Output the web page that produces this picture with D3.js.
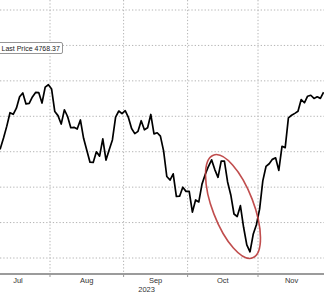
<!DOCTYPE html>
<html><head><meta charset="utf-8">
<script src="https://cdn.jsdelivr.net/npm/d3@7"></script>
<style>html,body{margin:0;padding:0;background:#fff;overflow:hidden}</style>
</head><body>
<svg id="c" width="324" height="292"></svg>
<script>
// Trading days (2023) and S&P 500 closes
const dates = ["07-03","07-05","07-06","07-07","07-10","07-11","07-12","07-13","07-14","07-17","07-18","07-19","07-20","07-21","07-24","07-25","07-26","07-27","07-28","07-31",
"08-01","08-02","08-03","08-04","08-07","08-08","08-09","08-10","08-11","08-14","08-15","08-16","08-17","08-18","08-21","08-22","08-23","08-24","08-25","08-28","08-29","08-30","08-31",
"09-01","09-05","09-06","09-07","09-08","09-11","09-12","09-13","09-14","09-15","09-18","09-19","09-20","09-21","09-22","09-25","09-26","09-27","09-28","09-29",
"10-02","10-03","10-04","10-05","10-06","10-09","10-10","10-11","10-12","10-13","10-16","10-17","10-18","10-19","10-20","10-23","10-24","10-25","10-26","10-27","10-30","10-31",
"11-01","11-02","11-03","11-06","11-07","11-08","11-09","11-10","11-13","11-14","11-15","11-16","11-17","11-20","11-21","11-22","11-24","11-27","11-28","11-29","11-30"];
const prices = [4455.59,4446.82,4411.59,4398.95,4409.53,4439.26,4472.16,4510.04,4505.42,4522.79,4554.98,4565.72,4534.87,4536.34,4554.64,4567.46,4566.75,4537.41,4582.23,4588.96,
4576.73,4513.39,4501.89,4478.03,4518.44,4499.38,4467.71,4468.83,4464.05,4489.72,4437.86,4404.33,4370.36,4369.71,4399.77,4387.55,4436.01,4376.31,4405.71,4433.31,4497.63,4514.87,4507.66,
4515.77,4496.83,4465.48,4451.14,4457.49,4487.46,4461.90,4467.44,4505.10,4450.32,4453.53,4443.95,4402.20,4330.00,4320.06,4337.44,4273.53,4274.51,4299.70,4288.05,
4288.39,4229.45,4263.75,4258.19,4308.50,4335.66,4358.24,4376.95,4349.61,4327.78,4373.63,4373.20,4314.60,4278.00,4224.16,4217.04,4247.68,4186.77,4137.23,4117.37,4166.82,4193.80,
4237.86,4317.78,4358.34,4365.98,4378.38,4382.78,4347.35,4415.24,4411.55,4495.70,4502.88,4508.24,4514.02,4547.38,4538.19,4556.62,4559.34,4550.43,4554.89,4550.58,4567.80];
const monthKeys = ["07","08","09","10","11"];
const monthLabels = ["Jul","Aug","Sep","Oct","Nov"];
const yearLabel = "2023";
const yTicks = [4100,4200,4300,4400,4500,4600,4700,4800];
const lastPriceText = "Last Price 4768.37";

const W = 324, H = 292, axisY = 274;
const svg = d3.select("#c");
const font = "'Liberation Sans', Arial, sans-serif";

// index based trading-day scale
const x = d3.scaleLinear().domain([0, 1]).range([-12.4, -9.2]);
const y = d3.scaleLinear().domain([4100, 4800]).range([258, 10]);

svg.append("defs").append("clipPath").attr("id","clip")
  .append("rect").attr("x",0).attr("y",0).attr("width",W).attr("height",axisY);

const grid = svg.append("g");
// horizontal grid
grid.selectAll("line.h").data(yTicks).join("line")
  .attr("x1",0).attr("x2",W).attr("y1",d=>y(d)).attr("y2",d=>y(d))
  .attr("stroke","#b4b4b4").attr("stroke-width",1).attr("stroke-dasharray","1.3,2");

// month boundaries
const monthFirst = monthKeys.map(m => dates.findIndex(d => d.startsWith(m)));
const monthLast = monthKeys.map(m => { let i=-1; dates.forEach((d,k)=>{ if(d.startsWith(m)) i=k; }); return i; });
const nov = monthKeys.length-1;
// November has 21 trading days in total
const monthEnd = monthLast.map((l,i)=> i===nov ? monthFirst[i]+21-1 : l);
const bounds = monthFirst.slice(1).map(i => x(i-0.5));
grid.selectAll("line.v").data(bounds).join("line")
  .attr("x1",d=>d).attr("x2",d=>d).attr("y1",0).attr("y2",axisY)
  .attr("stroke","#b4b4b4").attr("stroke-width",1).attr("stroke-dasharray","1.3,2");

// axis line and ticks
svg.append("line").attr("x1",0).attr("x2",W).attr("y1",axisY).attr("y2",axisY)
  .attr("stroke","#7a7a7a").attr("stroke-width",1.5);
svg.selectAll("line.tk").data(bounds).join("line")
  .attr("x1",d=>d).attr("x2",d=>d).attr("y1",axisY).attr("y2",axisY+3)
  .attr("stroke","#999").attr("stroke-width",1);

// month labels
svg.selectAll("text.m").data(monthLabels).join("text")
  .attr("x",(d,i)=> (x(monthFirst[i]-0.5)+x(monthEnd[i]+0.5))/2)
  .attr("y",283).attr("text-anchor","middle")
  .attr("font-family",font).attr("font-size",7.5).attr("fill","#333").text(d=>d);
svg.append("text").attr("x",x(monthFirst[2]-0.5)+23).attr("y",291.5).attr("text-anchor","middle")
  .attr("font-family",font).attr("font-size",7.5).attr("fill","#333").text(yearLabel);

// price line
const line = d3.line().x((d,i)=>x(i)).y(d=>y(d));
svg.append("path").datum(prices).attr("clip-path","url(#clip)")
  .attr("d",line).attr("fill","none").attr("stroke","#000")
  .attr("stroke-width",1.7).attr("stroke-linejoin","round");

// red ellipse highlight
svg.append("ellipse").attr("cx",0).attr("cy",0).attr("rx",20.5).attr("ry",55)
  .attr("transform","translate(233,206.5) rotate(-21)")
  .attr("fill","none").attr("stroke","#b93a3a").attr("stroke-width",1.6).attr("stroke-opacity",0.9);

// last price box
const g = svg.append("g");
g.append("rect").attr("x",-3).attr("y",42.5).attr("width",65.5).attr("height",11)
  .attr("rx",1.5).attr("fill","#fff").attr("stroke","#8a8a8a").attr("stroke-width",0.9);
g.append("text").attr("x",1.5).attr("y",51).attr("font-family",font).attr("font-size",7)
  .attr("fill","#222").text(lastPriceText);
</script>
</body></html>
